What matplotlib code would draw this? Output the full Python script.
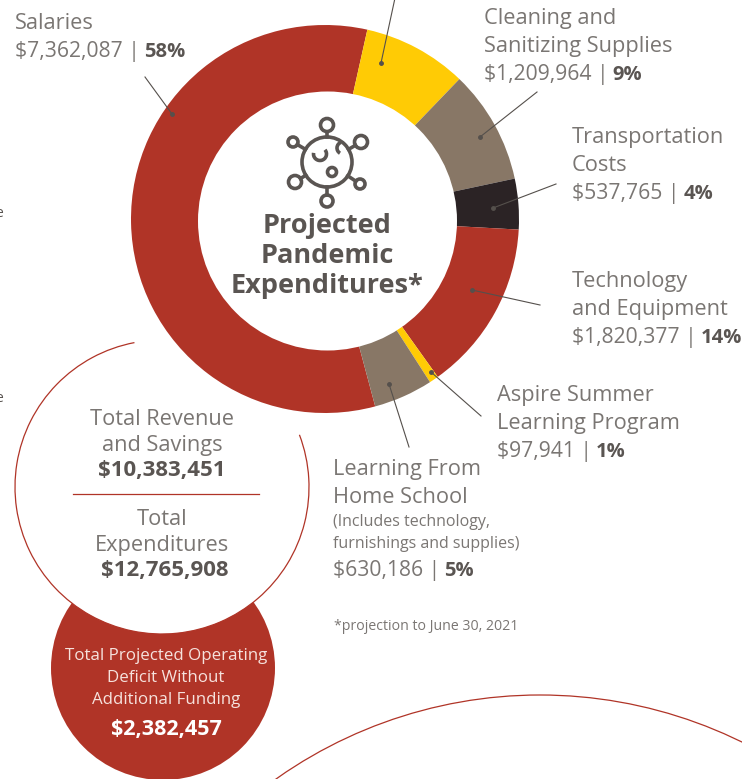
import matplotlib
matplotlib.use("Agg")
import matplotlib.pyplot as plt
from matplotlib.patches import Circle, Arc

# Dados do grafico
categorias = ["Salaries", "Unlabelled", "Cleaning and Sanitizing Supplies", "Transportation Costs",
              "Technology and Equipment", "Aspire Summer Learning Program", "Learning From Home School"]
valores = [7362087, 1107588, 1209964, 537765, 1820377, 97941, 630186]
cores = ["#B03427", "#FFCB05", "#887766", "#2B2325", "#B03427", "#FFCB05", "#887766"]
valores_txt = ["$7,362,087", "", "$1,209,964", "$537,765", "$1,820,377", "$97,941", "$630,186"]
percent_txt = ["58%", "", "9%", "4%", "14%", "1%", "5%"]

CINZA = "#7A7673"
ESCURO = "#5A5552"
VERMELHO = "#B03427"
FONTE = ["Open Sans", "DejaVu Sans"]
L = 742
H = 779

fig = plt.figure(figsize=(L / 100, H / 100), dpi=100)
ax = fig.add_axes([0, 0, 1, 1])


# y em pixels a partir do topo
def Y(y):
    return H - y


def texto(x, y, s, size=15.7, cor=CINZA, ha="left"):
    return ax.text(x, Y(y + 1.5), s, fontsize=size, color=cor, ha=ha, va="center",
                   family=FONTE, zorder=8)


def negrito(x, y, s, size=14.5, cor=ESCURO, ha="left"):
    return ax.text(x, Y(y + 1.5), s, fontsize=size, color=cor, fontweight="bold", ha=ha, va="center",
                   family=FONTE, zorder=8)


# linha de valor: "$x | " normal e percentual em negrito
def linha_valor(x, y, i):
    t = texto(x, y, valores_txt[i] + " |", size=15.2)
    fig.canvas.draw()
    larg = t.get_window_extent().width
    negrito(x + larg + 4, y, percent_txt[i])


def guia(x0, y0, x1, y1):
    ax.plot([x0, x1], [Y(y0), Y(y1)], color="#55504C", lw=0.8, zorder=6)
    ax.plot([x1], [Y(y1)], "o", ms=2.5, color="#55504C", zorder=6)


# Circulo vermelho do deficit e circulo branco por cima
ax.add_patch(Circle((163, Y(668)), 112, fc=VERMELHO, ec="none", zorder=1))
ax.add_patch(Circle((162, Y(487)), 147, fc="white", ec="none", zorder=2))
ax.add_patch(Arc((162, Y(487)), 294, 294, theta1=100.8, theta2=380.8, color=VERMELHO, lw=0.9, zorder=3))
ax.add_patch(Arc((540, Y(695 + 457)), 914, 914, theta1=50, theta2=130, color=VERMELHO, lw=0.9, zorder=3))

# Rosca principal
ax.pie(valores, colors=cores, center=(325, Y(219)), radius=194, startangle=-75,
       counterclock=False, frame=True, wedgeprops={"width": 80, "linewidth": 0, "zorder": 4})
# miolo branco, um pouco deslocado como no original
ax.add_patch(Circle((327.5, Y(221)), 129.5, fc="white", ec="none", zorder=5))

ax.set_xlim(0, L)
ax.set_ylim(0, H)
ax.set_aspect("equal")
ax.axis("off")

# Guias dos rotulos
guia(145, 77, 172, 114)
guia(395, -2, 381, 63)
guia(537, 92, 480, 137)
guia(556, 184, 493, 208)
guia(540, 305, 472, 290)
guia(481, 416, 431, 372)
guia(409, 447, 389, 384)

# Icone do virus
cx, cy = 327, 162
lw_ic = 2.6
ax.add_patch(Circle((cx, Y(cy)), 25, fc="none", ec=ESCURO, lw=lw_ic, zorder=7))
satelites = [(327, 125, 6.5), (361, 142, 6.5), (360, 184, 5), (327, 201, 6), (295, 182, 6.5), (293, 142, 5)]
for sx, sy, sr in satelites:
    ax.add_patch(Circle((sx, Y(sy)), sr, fc="none", ec=ESCURO, lw=lw_ic, zorder=7))
    d = ((sx - cx) ** 2 + (sy - cy) ** 2) ** 0.5
    ux, uy = (sx - cx) / d, (sy - cy) / d
    ax.plot([cx + ux * 25, sx - ux * sr], [Y(cy + uy * 25), Y(sy - uy * sr)], color=ESCURO, lw=lw_ic, zorder=7)
ax.add_patch(Circle((332, Y(172)), 4.5, fc="none", ec=ESCURO, lw=lw_ic, zorder=7))
ax.add_patch(Arc((320, Y(154)), 13, 13, theta1=170, theta2=400, color=ESCURO, lw=lw_ic, zorder=7))
ax.add_patch(Arc((343, Y(148)), 12, 12, theta1=110, theta2=240, color=ESCURO, lw=lw_ic, zorder=7))

# Titulo central
for y, s in zip([224, 254, 284], ["Projected", "Pandemic", "Expenditures*"]):
    negrito(327, y, s, size=19.5, ha="center")

# Rotulos
texto(15, 22, "Salaries")
linha_valor(15, 50, 0)
texto(484, 17, "Cleaning and")
texto(484, 45, "Sanitizing Supplies")
linha_valor(484, 73, 2)
texto(572, 136, "Transportation")
texto(572, 164, "Costs")
linha_valor(572, 192, 3)
texto(572, 280, "Technology")
texto(572, 308, "and Equipment")
linha_valor(572, 336, 4)
texto(497, 394, "Aspire Summer")
texto(497, 422, "Learning Program")
linha_valor(497, 450, 5)
texto(333, 468, "Learning From")
texto(333, 496, "Home School")
texto(333, 521, "(Includes technology,", size=11.5)
texto(333, 542, "furnishings and supplies)", size=11.5)
linha_valor(333, 569, 6)
texto(334, 625, "*projection to June 30, 2021", size=10.2)

# Circulo branco
texto(162, 418, "Total Revenue", ha="center")
texto(162, 444, "and Savings", ha="center")
negrito(162, 469, "$10,383,451", size=16, ha="center")
ax.plot([73, 259], [Y(494), Y(494)], color=VERMELHO, lw=0.9, zorder=5)
texto(162, 518, "Total", ha="center")
texto(162, 544, "Expenditures", ha="center")
negrito(165, 569, "$12,765,908", size=16, ha="center")

# Circulo vermelho
for y, s in zip([654, 676, 699], ["Total Projected Operating", "Deficit Without", "Additional Funding"]):
    texto(166, y, s, size=12.2, cor="#F6E2DD", ha="center")
negrito(166, 728, "$2,382,457", size=15.5, cor="white", ha="center")

# Restos de texto cortados na margem esquerda
texto(-5, 212, "e", size=10, cor=ESCURO)
texto(-5, 397, "e", size=10, cor=ESCURO)

fig.savefig("out.png", dpi=100)
